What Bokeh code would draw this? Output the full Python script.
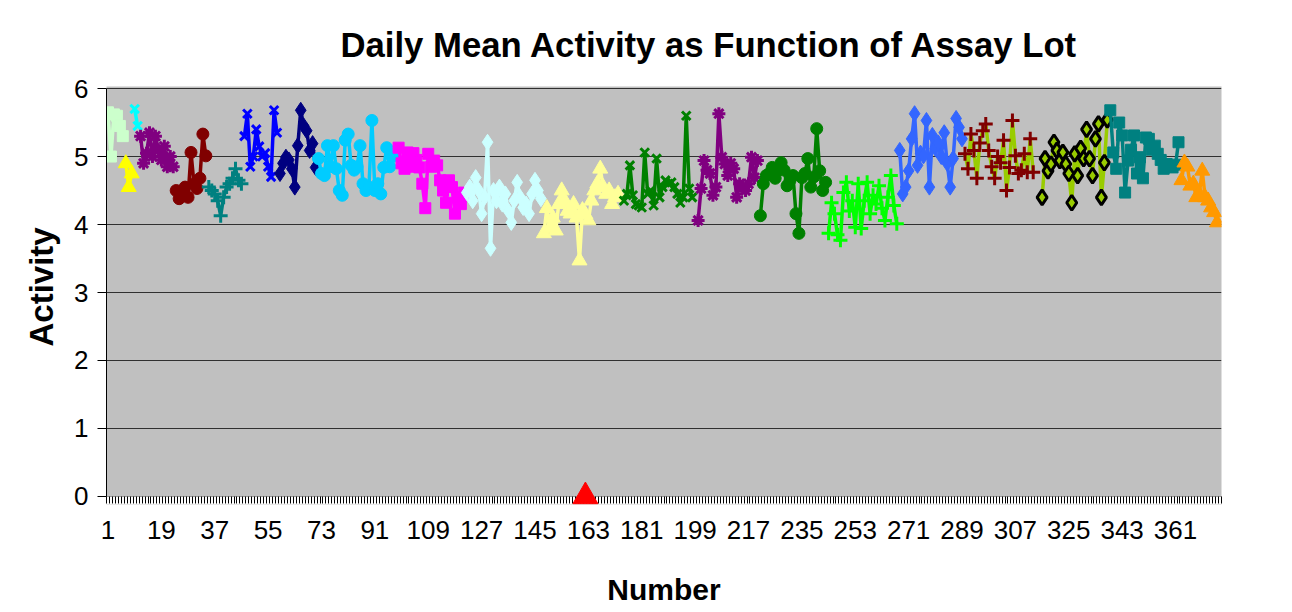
from bokeh.plotting import figure
from bokeh.models import FixedTicker, Range1d, Title, BoxAnnotation
from bokeh.embed import file_html
from bokeh.resources import INLINE

# ---- data: each assay lot = (first sample number, daily mean activities) ----
lot01_start, lot01 = 1,   [5.65, 5.0, 5.62, 5.6, 5.45, 5.3]
lot02_start, lot02 = 7,   [4.9, 4.55, 4.75]
lot03_start, lot03 = 10,  [5.7, 5.45]
lot04_start, lot04 = 12,  [5.3, 4.9, 5.05, 5.35, 5.0, 5.3, 5.1, 4.95, 5.15, 4.85, 5.0, 4.85]
lot05_start, lot05 = 24,  [4.5, 4.38, 4.45, 4.55, 4.4, 5.06, 4.6, 4.53, 4.68, 5.33, 5.01]
lot06_start, lot06 = 35,  [4.55, 4.5, 4.45, 4.35, 4.13, 4.4, 4.55, 4.6, 4.68, 4.82, 4.65, 4.6]
lot07_start, lot07 = 47,  [5.3, 5.63, 4.85, 5.0, 5.4, 5.15, 5.0, 5.05, 4.85, 4.7, 5.68, 5.35]
lot08_start, lot08 = 59,  [4.75, 4.9, 4.99, 4.95, 4.82, 4.55, 5.16, 5.68, 5.45, 5.38, 5.09, 5.19, 4.84]
lot09_start, lot09 = 72,  [4.97, 4.75, 4.72, 5.16, 4.85, 5.16, 4.82, 4.5, 4.43, 5.24, 5.33, 4.87, 4.8,
                           4.85, 5.16, 4.6, 4.5, 4.55, 5.53, 4.5, 4.6, 4.45, 4.84, 5.13, 4.85, 5.0]
lot10_start, lot10 = 99,  [5.13, 4.9, 4.82, 5.06, 4.85, 5.05, 4.95, 4.84, 4.6, 4.24, 5.04, 4.85, 4.94,
                           4.87, 4.65, 4.5, 4.32, 4.65, 4.55, 4.16, 4.4, 4.3, 4.47]
lot11_start, lot11 = 122, [4.47, 4.55, 4.35, 4.69, 4.5, 4.16, 4.4, 5.21, 3.65, 4.5, 4.35, 4.55, 4.3,
                           4.45, 4.2, 4.03, 4.35, 4.62, 4.4, 4.25, 4.3, 4.16, 4.45, 4.65, 4.5, 4.38]
lot12_start, lot12 = 148, [3.87, 4.24, 3.95, 4.1, 3.91, 4.3, 4.5, 4.35, 4.2, 4.16, 4.3, 4.1, 3.47,
                           4.21, 4.15, 4.06, 4.35, 4.5, 4.6, 4.82, 4.55, 4.45, 4.5, 4.3, 4.4, 4.45]
lot13_start, lot13 = 175, [4.35, 4.45, 4.87, 4.43, 4.3, 4.28, 4.25, 5.06, 4.45, 4.5, 4.28, 4.97,
                           4.4, 4.55, 4.65, 4.6, 4.62, 4.55, 4.45, 4.32, 4.4, 5.6, 4.53, 4.4]
lot14_start, lot14 = 200, [4.06, 4.53, 4.94, 4.8, 4.75, 4.43, 4.55, 5.63, 4.99, 4.89, 4.72, 4.9,
                           4.82, 4.4, 4.6, 4.55, 4.5, 4.6, 4.99, 4.69, 4.94]
lot15_start, lot15 = 221, [4.13, 4.6, 4.72, 4.75, 4.84, 4.68, 4.8, 4.91, 4.8, 4.57, 4.65, 4.72,
                           4.16, 3.87, 4.69, 4.75, 4.97, 4.55, 4.7, 5.41, 4.79, 4.5, 4.62]
lot16_start, lot16 = 244, [3.87, 4.32, 4.16, 3.85, 3.77, 4.47, 4.62, 4.2, 4.35, 3.96, 4.6, 3.94,
                           4.35, 4.62, 4.16, 4.43, 4.3, 4.57, 4.24, 4.06, 4.4, 4.72, 4.28, 4.01]
lot17_start, lot17 = 268, [5.09, 4.45, 4.55, 4.79, 5.26, 5.63, 4.87, 5.05, 5.01, 5.53, 4.55, 5.31,
                           5.12, 5.2, 5.0, 5.35, 4.9, 4.55, 4.97, 5.56, 5.43, 5.26]
lot18_start, lot18 = 290, [5.04, 4.82, 5.33, 5.09, 4.68, 5.2, 5.38, 5.48, 5.09, 4.85, 4.68, 5.0,
                           4.91, 5.24, 4.5, 4.84, 5.53, 5.01, 4.75, 4.8, 5.04, 4.77, 5.26, 4.77]
lot19_start, lot19 = 316, [4.4, 4.97, 4.79, 4.89, 5.21, 5.09, 4.94, 5.06, 4.89, 4.75, 4.32, 5.04,
                           4.72, 5.12, 4.97, 5.4, 4.97, 4.72, 5.26, 5.48, 4.4, 4.91, 5.54]
lot20_start, lot20 = 339, [5.68, 5.06, 4.82, 5.5, 5.31, 4.47, 4.94, 5.1, 5.31, 4.75, 4.99, 4.68,
                           5.28, 5.26, 5.1, 5.16, 5.04, 4.95, 4.82, 4.89, 4.86, 4.84, 4.88, 5.21]
lot21_start, lot21 = 363, [4.65, 4.91, 4.85, 4.57, 4.6, 4.4, 4.45, 4.79, 4.4, 4.35, 4.25, 4.18, 4.03]

flag_x = [162]
flag_y = [0.0]

n_samples = 376
x_tick_labels = list(range(1, 362, 18))
y_ticks = [0, 1, 2, 3, 4, 5, 6]
y_min, y_max = 0, 6

# ---- styles: (line color, marker, marker fill, marker outline, size) ----
styles = [
    ("#CCFFCC", "square",   "#CCFFCC", "#CCFFCC", 11),
    ("#FFFF00", "triangle", "#FFFF00", "#FFFF00", 15),
    ("#00FFFF", "x",        None,      "#00FFFF", 12),
    ("#800080", "asterisk", None,      "#800080", 13),
    ("#800000", "circle",   "#800000", "#800000", 12),
    ("#008080", "cross",    None,      "#008080", 14),
    ("#0000FF", "x",        None,      "#0000FF", 12),
    ("#000080", "diamond",  "#000080", "#000080", 16),
    ("#00CCFF", "circle",   "#00CCFF", "#00CCFF", 12),
    ("#FF00FF", "square",   "#FF00FF", "#FF00FF", 11),
    ("#CCFFFF", "diamond",  "#CCFFFF", "#CCFFFF", 16),
    ("#FFFF99", "triangle", "#FFFF99", "#FFFF99", 15),
    ("#008000", "x",        None,      "#008000", 12),
    ("#800080", "asterisk", None,      "#800080", 13),
    ("#008000", "circle",   "#008000", "#008000", 12),
    ("#00FF00", "cross",    None,      "#00FF00", 14),
    ("#3366FF", "diamond",  "#3366FF", "#3366FF", 16),
    ("#99CC00", "cross",    None,      "#800000", 14),
    ("#99CC00", "diamond",  "#99CC00", "#000000", 15),
    ("#008080", "square",   "#008080", "#008080", 11),
    ("#FF9900", "triangle", "#FF9900", "#FF9900", 15),
]

lots = [
    (lot01_start, lot01), (lot02_start, lot02), (lot03_start, lot03), (lot04_start, lot04),
    (lot05_start, lot05), (lot06_start, lot06), (lot07_start, lot07), (lot08_start, lot08),
    (lot09_start, lot09), (lot10_start, lot10), (lot11_start, lot11), (lot12_start, lot12),
    (lot13_start, lot13), (lot14_start, lot14), (lot15_start, lot15), (lot16_start, lot16),
    (lot17_start, lot17), (lot18_start, lot18), (lot19_start, lot19), (lot20_start, lot20),
    (lot21_start, lot21),
]

FONT = "Liberation Sans"

# the frame reaches 8px below zero so the flag marker on the zero line is not clipped
p = figure(width=1290, height=612, output_backend="svg", toolbar_location=None,
           x_range=Range1d(0.5, n_samples + 0.5), y_range=Range1d(-0.118, 6.03),
           min_border_left=106, min_border_right=69, min_border_top=86, min_border_bottom=108,
           background_fill_color="#C0C0C0", border_fill_color="white")
p.outline_line_color = None

# white strip below the zero line (outside the Excel plot area)
p.add_layout(BoxAnnotation(top=y_min, fill_color="white", fill_alpha=1.0,
                           line_color=None, level="underlay"))

# title
t = Title(text="Daily Mean Activity as Function of Assay Lot", align="left",
          text_font=FONT, text_font_size="34.7px", text_font_style="bold",
          text_color="black", offset=234, standoff=46)
p.add_layout(t, "above")

# y-axis title (placed as a side title so it can sit where Excel put it)
yt = Title(text="Activity", align="left", text_font=FONT, text_font_size="33px",
           text_font_style="bold", text_color="black", offset=158, standoff=24)
p.add_layout(yt, "left")

# grid (the zero grid line doubles as the category axis line)
p.xgrid.grid_line_color = None
p.ygrid.ticker = FixedTicker(ticks=y_ticks)
p.ygrid.grid_line_color = "#303030"
p.ygrid.grid_line_width = 1

# x axis: ticks between categories, hanging from the zero line
p.xaxis.ticker = FixedTicker(ticks=x_tick_labels,
                             minor_ticks=[i + 0.5 for i in range(0, n_samples + 1)])
p.xaxis.axis_line_color = None
p.xaxis.major_tick_line_color = None
p.xaxis.major_tick_out = 0
p.xaxis.major_tick_in = 0
p.xaxis.minor_tick_in = 8
p.xaxis.minor_tick_out = -1
p.xaxis.minor_tick_line_color = "black"
p.xaxis.axis_label = "Number"
p.xaxis.major_label_standoff = 16
p.xaxis.axis_label_standoff = 31
p.xaxis.axis_label_text_font_size = "30px"

p.yaxis.ticker = FixedTicker(ticks=y_ticks)
p.yaxis.bounds = (y_min, y_max)
p.yaxis.axis_line_color = "black"
p.yaxis.major_tick_out = 9
p.yaxis.major_tick_in = 0
p.yaxis.major_tick_line_color = "black"
p.yaxis.minor_tick_line_color = None
p.yaxis.major_label_standoff = 9

for ax in (p.xaxis[0], p.yaxis[0]):
    ax.axis_line_width = 1
    ax.major_tick_line_width = 1
    ax.major_label_text_font = FONT
    ax.major_label_text_font_size = "26px"
    ax.major_label_text_color = "black"
    ax.axis_label_text_font = FONT
    ax.axis_label_text_font_style = "bold"
    ax.axis_label_text_color = "black"

# series
for (start, vals), (lc, mk, fc, oc, sz) in zip(lots, styles):
    xs = list(range(start, start + len(vals)))
    p.line(xs, vals, line_color=lc, line_width=3.5)
    lw = 3 if mk in ("x", "cross", "asterisk") else (3 if oc == "#000000" else 1)
    p.scatter(xs, vals, marker=mk, size=sz, fill_color=fc, line_color=oc, line_width=lw)

p.scatter(flag_x, flag_y, marker="triangle", size=25, fill_color="#FF0000",
          line_color="#FF0000", level="overlay")

open("out.html", "w").write(file_html(p, INLINE))
